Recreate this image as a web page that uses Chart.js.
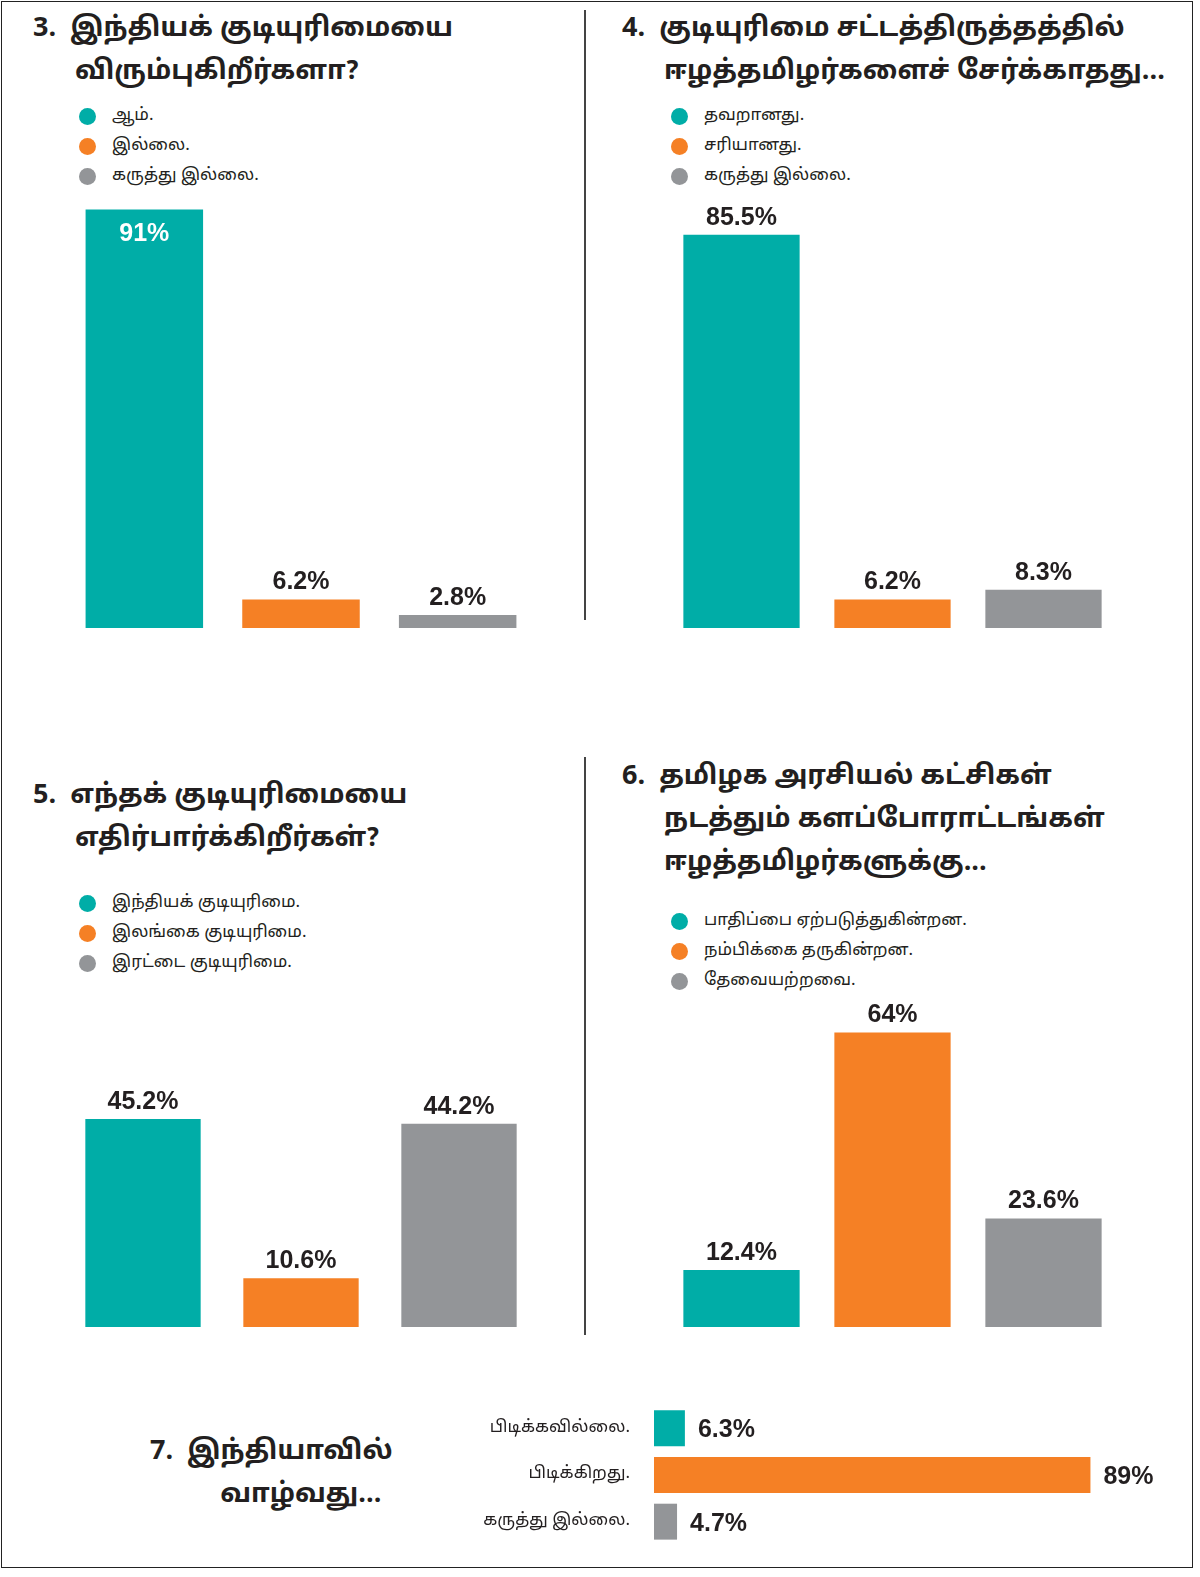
<!DOCTYPE html>
<html><head><meta charset="utf-8">
<script src="https://cdn.jsdelivr.net/npm/chart.js@4"></script>
<style>
html,body{margin:0;padding:0;background:#fff}
body{width:1200px;height:1577px;position:relative;font-family:"Noto Sans Tamil","Noto Sans","Liberation Sans",sans-serif;color:#231f20}
#frame{position:absolute;left:1px;top:1px;width:1190px;height:1565px;border:1.5px solid #222}
.vl{position:absolute;left:584px;width:1.5px;background:#444}
.t{position:absolute;font-weight:bold;font-size:27px;line-height:43px;white-space:nowrap}
.lg{position:absolute;font-size:17px;line-height:30px}
.lg div{position:relative;padding-left:33px;white-space:nowrap}
.lg span{position:absolute;left:0;top:7px;width:17px;height:17px;border-radius:50%}
canvas{position:absolute}
</style></head><body>
<div id="frame"></div>
<div class="vl" style="top:10px;height:610px"></div>
<div class="vl" style="top:757px;height:578px"></div>

<div class="t" style="left:33px;top:8px">3.&nbsp; இந்தியக் குடியுரிமையை<br>&nbsp;&nbsp;&nbsp;&nbsp;&nbsp; விரும்புகிறீர்களா?</div>
<div class="t" style="left:622px;top:8px">4.&nbsp; குடியுரிமை சட்டத்திருத்தத்தில்<br>&nbsp;&nbsp;&nbsp;&nbsp;&nbsp; ஈழத்தமிழர்களைச் சேர்க்காதது...</div>
<div class="t" style="left:33px;top:775px">5.&nbsp; எந்தக் குடியுரிமையை<br>&nbsp;&nbsp;&nbsp;&nbsp;&nbsp; எதிர்பார்க்கிறீர்கள்?</div>
<div class="t" style="left:622px;top:756px">6.&nbsp; தமிழக அரசியல் கட்சிகள்<br>&nbsp;&nbsp;&nbsp;&nbsp;&nbsp; நடத்தும் களப்போராட்டங்கள்<br>&nbsp;&nbsp;&nbsp;&nbsp;&nbsp; ஈழத்தமிழர்களுக்கு...</div>
<div class="t" style="left:150px;top:1431px">7.&nbsp; இந்தியாவில்<br>&nbsp;&nbsp;&nbsp;&nbsp;&nbsp;&nbsp;&nbsp;&nbsp;&nbsp; வாழ்வது...</div>

<div class="lg" id="lg1" style="left:79px;top:101px"></div>
<div class="lg" id="lg2" style="left:671px;top:101px"></div>
<div class="lg" id="lg3" style="left:79px;top:888px"></div>
<div class="lg" id="lg4" style="left:671px;top:906px"></div>

<canvas id="c1" style="left:66px;top:168px" width="470" height="460"></canvas>
<canvas id="c2" style="left:666px;top:168px" width="453" height="460"></canvas>
<canvas id="c3" style="left:64px;top:867px" width="474" height="460"></canvas>
<canvas id="c4" style="left:666px;top:867px" width="453" height="460"></canvas>
<canvas id="c5" style="left:400px;top:1405px" width="790" height="140"></canvas>

<script>
const colors = ['#00ada7', '#f58025', '#939598'];

const legend3 = ['ஆம்.', 'இல்லை.', 'கருத்து இல்லை.'];
const values3 = [91, 6.2, 2.8];
const legend4 = ['தவறானது.', 'சரியானது.', 'கருத்து இல்லை.'];
const values4 = [85.5, 6.2, 8.3];
const legend5 = ['இந்தியக் குடியுரிமை.', 'இலங்கை குடியுரிமை.', 'இரட்டை குடியுரிமை.'];
const values5 = [45.2, 10.6, 44.2];
const legend6 = ['பாதிப்பை ஏற்படுத்துகின்றன.', 'நம்பிக்கை தருகின்றன.', 'தேவையற்றவை.'];
const values6 = [12.4, 64, 23.6];
const labels7 = ['பிடிக்கவில்லை.', 'பிடிக்கிறது.', 'கருத்து இல்லை.'];
const values7 = [6.3, 89, 4.7];

function fillLegend(id, items) {
  document.getElementById(id).innerHTML = items.map((t, i) =>
    '<div><span style="background:' + colors[i] + '"></span>' + t + '</div>').join('');
}
fillLegend('lg1', legend3); fillLegend('lg2', legend4);
fillLegend('lg3', legend5); fillLegend('lg4', legend6);

const valueLabels = {
  id: 'valueLabels',
  afterDatasetsDraw(chart, args, opts) {
    const ctx = chart.ctx;
    const meta = chart.getDatasetMeta(0);
    ctx.save();
    meta.data.forEach((bar, i) => {
      const v = chart.data.datasets[0].data[i];
      const txt = v + '%';
      ctx.font = 'bold 25px "Liberation Sans", Arial, sans-serif';
      if (chart.options.indexAxis === 'y') {
        ctx.fillStyle = '#231f20';
        ctx.textAlign = 'left'; ctx.textBaseline = 'middle';
        ctx.fillText(txt, bar.x + 13, bar.y + 2);
        // category label to the left of the bar
        ctx.font = '17px "Noto Sans Tamil","Noto Sans",sans-serif';
        ctx.textAlign = 'right';
        ctx.fillText(chart.data.labels[i], chart.chartArea.left - 24, bar.y);
      } else if (opts.inside && i === 0) {
        ctx.fillStyle = '#fff';
        ctx.textAlign = 'center'; ctx.textBaseline = 'middle';
        ctx.fillText(txt, bar.x, bar.y + 25);
      } else {
        ctx.fillStyle = '#231f20';
        ctx.textAlign = 'center'; ctx.textBaseline = 'middle';
        ctx.fillText(txt, bar.x, bar.y - 17);
      }
    });
    ctx.restore();
  }
};

function barChart(id, values, pct, inside) {
  new Chart(document.getElementById(id), {
    type: 'bar',
    data: {
      labels: ['a', 'b', 'c'],
      datasets: [{ data: values, backgroundColor: colors, barPercentage: pct, categoryPercentage: 1 }]
    },
    options: {
      responsive: false, animation: false,
      layout: { padding: 0 },
      plugins: { legend: { display: false }, tooltip: { enabled: false }, valueLabels: { inside } },
      scales: {
        x: { display: false },
        y: { display: false, min: 0, max: 100 }
      }
    },
    plugins: [valueLabels]
  });
}
barChart('c1', values3, 0.75, true);
barChart('c2', values4, 0.77, false);
barChart('c3', values5, 0.73, false);
barChart('c4', values6, 0.77, false);

new Chart(document.getElementById('c5'), {
  type: 'bar',
  data: {
    labels: labels7,
    datasets: [{ data: values7, backgroundColor: colors, barPercentage: 0.77, categoryPercentage: 1 }]
  },
  options: {
    indexAxis: 'y', responsive: false, animation: false,
    layout: { padding: { left: 254, right: 26, top: 0, bottom: 0 } },
    plugins: { legend: { display: false }, tooltip: { enabled: false } },
    scales: {
      x: { display: false, min: 0, max: 104 },
      y: { display: false }
    }
  },
  plugins: [valueLabels]
});
</script>
</body></html>
